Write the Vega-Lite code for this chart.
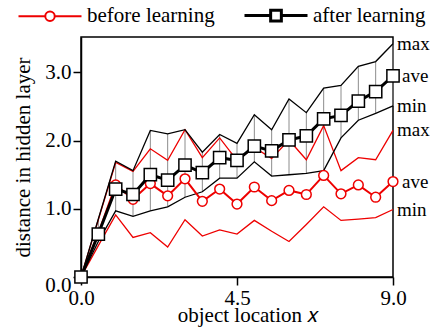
{
  "$schema": "https://vega.github.io/schema/vega-lite/v6.json",
  "autosize": {"type": "none"},
  "padding": {"left": 81, "top": 37, "right": 40, "bottom": 54},
  "width": 312,
  "height": 240,
  "config": {
    "font": "Liberation Serif",
    "view": {"stroke": "black", "strokeWidth": 1.5},
    "axis": {"grid": false, "domainColor": "black", "domainWidth": 1.5, "tickColor": "black", "tickWidth": 1.5, "tickSize": 8, "labelFont": "Liberation Serif", "labelFontSize": 21, "labelColor": "black", "titleFont": "Liberation Serif", "titleFontSize": 21, "titleFontWeight": "normal", "titleColor": "black", "labelPadding": 2},
    "legend": {"labelFont": "Liberation Serif", "labelFontSize": 21, "labelColor": "black"},
    "text": {"font": "Liberation Serif"}
  },
  "datasets": {
    "main": [
      {"x": 0.0, "bmin": 0.00, "bave": 0.00, "bmax": 0.00, "amin": 0.00, "aave": 0.00, "amax": 0.00},
      {"x": 0.5, "bmin": 0.46, "bave": 0.64, "bmax": 0.84, "amin": 0.52, "aave": 0.63, "amax": 0.85},
      {"x": 1.0, "bmin": 0.91, "bave": 1.35, "bmax": 1.68, "amin": 0.97, "aave": 1.29, "amax": 1.70},
      {"x": 1.5, "bmin": 0.58, "bave": 1.14, "bmax": 1.55, "amin": 0.89, "aave": 1.21, "amax": 1.56},
      {"x": 2.0, "bmin": 0.65, "bave": 1.37, "bmax": 1.88, "amin": 0.97, "aave": 1.50, "amax": 2.15},
      {"x": 2.5, "bmin": 0.44, "bave": 1.19, "bmax": 1.71, "amin": 1.03, "aave": 1.42, "amax": 2.10},
      {"x": 3.0, "bmin": 0.84, "bave": 1.44, "bmax": 2.16, "amin": 1.17, "aave": 1.64, "amax": 2.16},
      {"x": 3.5, "bmin": 0.60, "bave": 1.11, "bmax": 1.75, "amin": 1.25, "aave": 1.53, "amax": 1.83},
      {"x": 4.0, "bmin": 0.69, "bave": 1.29, "bmax": 2.04, "amin": 1.45, "aave": 1.75, "amax": 2.09},
      {"x": 4.5, "bmin": 0.63, "bave": 1.07, "bmax": 1.71, "amin": 1.45, "aave": 1.71, "amax": 1.96},
      {"x": 5.0, "bmin": 0.83, "bave": 1.32, "bmax": 1.90, "amin": 1.69, "aave": 1.92, "amax": 2.38},
      {"x": 5.5, "bmin": 0.67, "bave": 1.12, "bmax": 1.74, "amin": 1.48, "aave": 1.85, "amax": 2.16},
      {"x": 6.0, "bmin": 0.52, "bave": 1.27, "bmax": 2.01, "amin": 1.50, "aave": 2.01, "amax": 2.61},
      {"x": 6.5, "bmin": 0.77, "bave": 1.21, "bmax": 1.72, "amin": 1.52, "aave": 2.07, "amax": 2.41},
      {"x": 7.0, "bmin": 1.03, "bave": 1.49, "bmax": 2.22, "amin": 1.56, "aave": 2.32, "amax": 2.77},
      {"x": 7.5, "bmin": 0.83, "bave": 1.22, "bmax": 1.56, "amin": 2.04, "aave": 2.37, "amax": 2.81},
      {"x": 8.0, "bmin": 0.85, "bave": 1.35, "bmax": 1.75, "amin": 2.30, "aave": 2.58, "amax": 3.09},
      {"x": 8.5, "bmin": 0.87, "bave": 1.17, "bmax": 1.72, "amin": 2.40, "aave": 2.72, "amax": 3.16},
      {"x": 9.0, "bmin": 0.99, "bave": 1.40, "bmax": 2.15, "amin": 2.51, "aave": 2.95, "amax": 3.42}
    ],
    "labels": [
      {"x": 9.0, "label": "max", "value": 3.42},
      {"x": 9.0, "label": "ave", "value": 2.95},
      {"x": 9.0, "label": "min", "value": 2.51},
      {"x": 9.0, "label": "max", "value": 2.15},
      {"x": 9.0, "label": "ave", "value": 1.40},
      {"x": 9.0, "label": "min", "value": 0.99}
    ]
  },
  "data": {"name": "main"},
  "encoding": {
    "x": {"field": "x", "type": "quantitative", "scale": {"domain": [0, 9], "nice": false},
      "axis": {"values": [0, 4.5, 9], "format": ".1f", "labelFlush": false, "labelFont": "Liberation Serif", "titleFont": "Liberation Serif", "title": "object location 𝑥", "titleX": 167, "titleY": 44, "titleBaseline": "alphabetic", "titleAlign": "center"}}
  },
  "layer": [
    {"mark": {"type": "rule", "color": "#8c8c8c", "strokeWidth": 1},
     "encoding": {
       "y": {"field": "amin", "type": "quantitative", "scale": {"domain": [0, 3.52], "nice": false},
         "axis": {"values": [0, 1, 2, 3], "format": ".1f", "labelFlush": true, "labelFlushOffset": 18, "labelFont": "Liberation Serif", "titleFont": "Liberation Serif", "title": "distance in hidden layer", "titleX": -58, "titleY": 120, "titleAngle": -90, "titleAlign": "center", "titleBaseline": "middle"}},
       "y2": {"field": "amax"}
     }},
    {"mark": {"type": "line", "color": "#ee0000", "strokeWidth": 1.3}, "encoding": {"y": {"field": "bmin", "type": "quantitative"}}},
    {"mark": {"type": "line", "color": "#ee0000", "strokeWidth": 1.3}, "encoding": {"y": {"field": "bmax", "type": "quantitative"}}},
    {"mark": {"type": "line", "color": "black", "strokeWidth": 1.3}, "encoding": {"y": {"field": "amin", "type": "quantitative"}}},
    {"mark": {"type": "line", "color": "black", "strokeWidth": 1.3}, "encoding": {"y": {"field": "amax", "type": "quantitative"}}},
    {"mark": {"type": "line", "strokeWidth": 2},
     "encoding": {
       "y": {"field": "bave", "type": "quantitative"},
       "color": {"datum": "before learning", "type": "nominal",
         "scale": {"domain": ["before learning", "after learning"], "range": ["#ee0000", "black"]},
         "legend": {"title": null, "orient": "none", "direction": "horizontal", "legendX": -41.5, "legendY": -32, "padding": 0,
           "symbolSize": 3969, "labelOffset": 26.5, "columnPadding": 23,
           "encode": {"symbols": {"update": {
             "shape": {"signal": "datum.value == 'before learning' ? 'M-1,0H-0.15M0.15,0H1M-0.15,0A0.15,0.15 0 1,1 0.15,0A0.15,0.15 0 1,1 -0.15,0Z' : 'M-1,0H-0.17M0.17,0H1M-0.17,-0.17H0.17V0.17H-0.17Z'"},
             "strokeWidth": {"signal": "datum.value == 'before learning' ? 2 : 3"},
             "fill": {"value": "white"},
             "fillOpacity": {"value": 1}
           }}}}}
     }},
    {"mark": {"type": "point", "shape": "circle", "filled": true, "fill": "white", "stroke": "#ee0000", "strokeWidth": 1.5, "size": 95, "opacity": 1},
     "encoding": {"y": {"field": "bave", "type": "quantitative"}}},
    {"mark": {"type": "line", "strokeWidth": 3},
     "encoding": {
       "y": {"field": "aave", "type": "quantitative"},
       "color": {"datum": "after learning", "type": "nominal"}
     }},
    {"mark": {"type": "point", "shape": "square", "filled": true, "fill": "white", "stroke": "black", "strokeWidth": 1.5, "size": 150, "opacity": 1},
     "encoding": {"y": {"field": "aave", "type": "quantitative"}}},
    {"data": {"name": "labels"},
     "transform": [{"filter": "datum.label != 'ave'"}],
     "mark": {"type": "text", "align": "left", "baseline": "middle", "dx": 4, "fontSize": 19, "color": "black", "font": "Liberation Serif"},
     "encoding": {"y": {"field": "value", "type": "quantitative"}, "text": {"field": "label", "type": "nominal"}}},
    {"data": {"name": "labels"},
     "transform": [{"filter": "datum.label == 'ave'"}],
     "mark": {"type": "text", "align": "left", "baseline": "middle", "dx": 9, "fontSize": 19, "color": "black", "font": "Liberation Serif"},
     "encoding": {"y": {"field": "value", "type": "quantitative"}, "text": {"field": "label", "type": "nominal"}}}
  ]
}
